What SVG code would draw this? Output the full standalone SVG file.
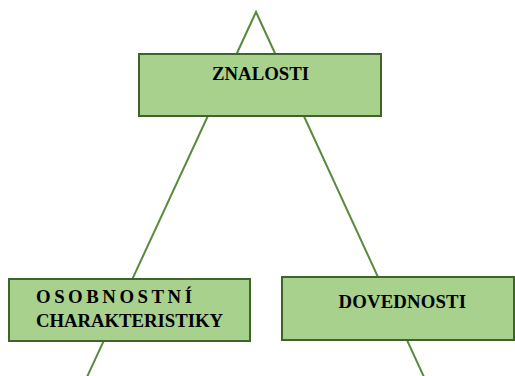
<svg xmlns="http://www.w3.org/2000/svg" width="515" height="376" viewBox="0 0 515 376">
<rect width="515" height="376" fill="#fff"/>
<g id="connectors" stroke="#5a8a3c" stroke-width="2" fill="none">
<path d="M87,377 L256,12 L424,377"/>
</g>
<g id="znalosti">
<rect x="139" y="54" width="242" height="62" fill="#a9d18e" stroke="#3f6427" stroke-width="2"/>
<text x="212" y="79.5" textLength="97" lengthAdjust="spacing" font-family="Liberation Serif, Times New Roman, serif" font-weight="bold" font-size="18.8" fill="#000">ZNALOSTI</text>
</g>
<g id="osobnostni">
<rect x="9" y="279" width="241" height="62" fill="#a9d18e" stroke="#3f6427" stroke-width="2"/>
<text x="36" y="303.3" textLength="156" lengthAdjust="spacing" font-family="Liberation Serif, Times New Roman, serif" font-weight="bold" font-size="18.8" fill="#000">OSOBNOSTNÍ</text>
<text x="36" y="326.7" textLength="187" lengthAdjust="spacing" font-family="Liberation Serif, Times New Roman, serif" font-weight="bold" font-size="18.8" fill="#000">CHARAKTERISTIKY</text>
</g>
<g id="dovednosti">
<rect x="282" y="277" width="232" height="63" fill="#a9d18e" stroke="#3f6427" stroke-width="2"/>
<text x="338.5" y="307.7" textLength="127.5" lengthAdjust="spacing" font-family="Liberation Serif, Times New Roman, serif" font-weight="bold" font-size="18.8" fill="#000">DOVEDNOSTI</text>
</g>
</svg>
